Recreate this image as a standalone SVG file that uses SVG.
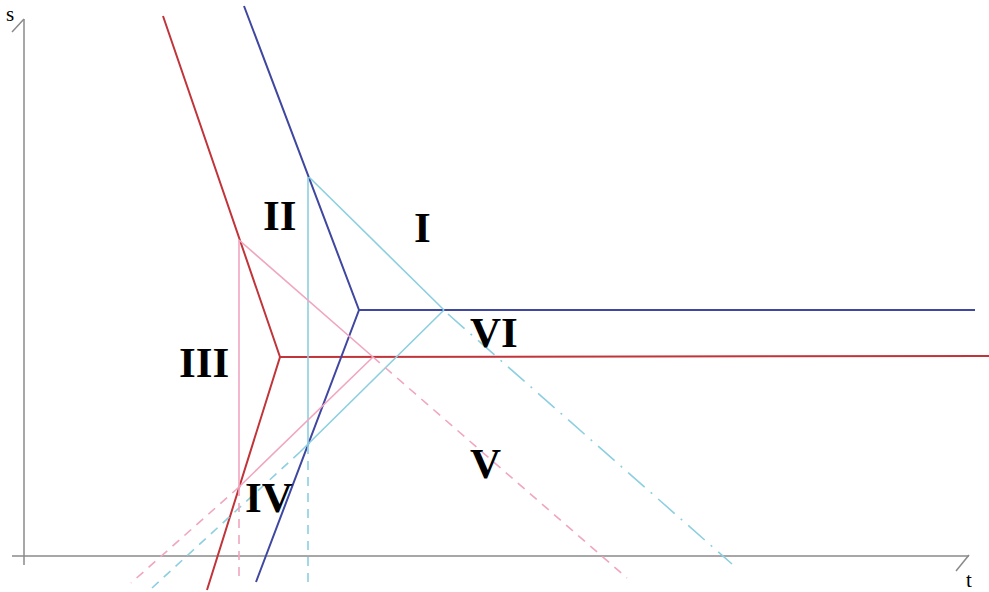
<svg xmlns="http://www.w3.org/2000/svg" width="989" height="592" viewBox="0 0 989 592">
<style>
.ax{stroke:#8a8a8a;stroke-width:1.5;fill:none}
.red{stroke:#c0343a;stroke-width:2;fill:none}
.blue{stroke:#3f47a0;stroke-width:2;fill:none}
.cy{stroke:#8ccfe0;stroke-width:1.6;fill:none}
.pk{stroke:#f0a6c0;stroke-width:1.6;fill:none}
.dash{stroke-dasharray:9 7}
.dashdot{stroke-dasharray:22 8 2 8}
.lbl{font-family:"Liberation Serif",serif;font-weight:bold;font-size:43px;fill:#000}
.axl{font-family:"Liberation Serif",serif;font-size:21px;fill:#000}
</style>
<rect width="989" height="592" fill="#fff"/>
<g id="axes">
<line class="ax" x1="24" y1="19" x2="24" y2="565"/>
<line class="ax" x1="12" y1="32" x2="24" y2="19"/>
<line class="ax" x1="12" y1="556" x2="969" y2="556"/>
<line class="ax" x1="956" y1="571" x2="969" y2="555"/>
<text class="axl" x="6" y="21">s</text>
<text class="axl" x="966" y="587">t</text>
</g>
<g id="connectors">
<polyline class="red" points="163,16 280,357 207,590"/>
<line class="red" x1="280" y1="357" x2="989" y2="356"/>
<polyline class="blue" points="244,6 359,310 256,582"/>
<line class="blue" x1="359" y1="310" x2="975" y2="310"/>
<line class="cy" x1="308" y1="177" x2="308" y2="445"/>
<line class="cy dash" x1="308" y1="445" x2="308" y2="586"/>
<line class="cy" x1="309" y1="177" x2="444" y2="310"/>
<line class="cy dashdot" x1="448" y1="314" x2="732" y2="564"/>
<line class="cy" x1="444" y1="310" x2="300" y2="452"/>
<line class="cy dash" x1="300" y1="452" x2="152" y2="588"/>
<line class="pk" x1="239" y1="240" x2="239" y2="487"/>
<line class="pk dash" x1="239" y1="487" x2="239" y2="582"/>
<line class="pk" x1="239" y1="240" x2="373" y2="357"/>
<line class="pk dash" x1="373" y1="357" x2="627" y2="578"/>
<line class="pk" x1="373" y1="357" x2="239" y2="487"/>
<line class="pk dash" x1="239" y1="487" x2="131" y2="583"/>
</g>
<g id="labels">
<text class="lbl" x="414" y="242">I</text>
<text class="lbl" x="263" y="230">II</text>
<text class="lbl" x="179" y="377">III</text>
<text class="lbl" x="245" y="512">IV</text>
<text class="lbl" x="470" y="478">V</text>
<text class="lbl" x="470" y="347">VI</text>
</g>
</svg>
